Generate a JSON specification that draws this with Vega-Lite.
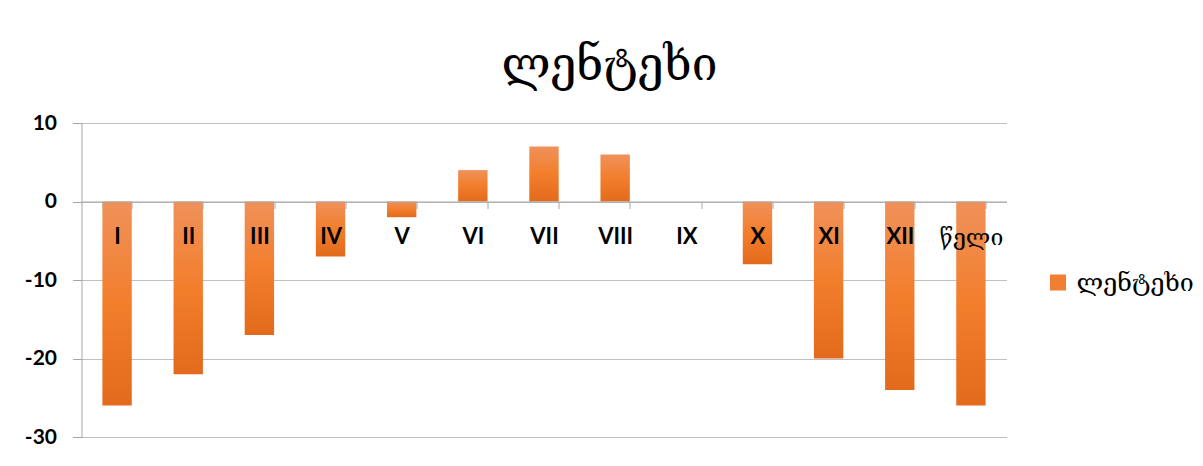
{
  "$schema": "https://vega.github.io/schema/vega-lite/v6.json",
  "width": 925,
  "height": 314,
  "autosize": {"type": "none"},
  "padding": {"left": 81.5, "top": 123, "right": 196.5, "bottom": 29},
  "background": "white",
  "title": {"text": "ლენტეხი", "fontSize": 46, "font": "DejaVu Serif", "fontWeight": "normal", "anchor": "middle", "frame": "bounds", "offset": 22, "dx": 0, "color": "#000000"},
  "data": {"values": [
    {"m": "I", "v": -26, "s": "ლენტეხი"},
    {"m": "II", "v": -22, "s": "ლენტეხი"},
    {"m": "III", "v": -17, "s": "ლენტეხი"},
    {"m": "IV", "v": -7, "s": "ლენტეხი"},
    {"m": "V", "v": -2, "s": "ლენტეხი"},
    {"m": "VI", "v": 4, "s": "ლენტეხი"},
    {"m": "VII", "v": 7, "s": "ლენტეხი"},
    {"m": "VIII", "v": 6, "s": "ლენტეხი"},
    {"m": "IX", "v": 0, "s": "ლენტეხი"},
    {"m": "X", "v": -8, "s": "ლენტეხი"},
    {"m": "XI", "v": -20, "s": "ლენტეხი"},
    {"m": "XII", "v": -24, "s": "ლენტეხი"},
    {"m": "წელი", "v": -26, "s": "ლენტეხი"}
  ]},
  "encoding": {
    "x": {"field": "m", "type": "nominal", "sort": null,
      "scale": {"paddingInner": 0.587, "paddingOuter": 0.2935},
      "axis": {"orient": "bottom", "offset": -235.5, "title": null, "labelAngle": 0, "labelFont": "Lato, DejaVu Serif",
        "labelFontSize": {"condition": {"test": "datum.label == 'წელი'", "value": 23}, "value": 22},
        "labelFontWeight": {"condition": {"test": "datum.label == 'წელი'", "value": "normal"}, "value": "bold"},
        "labelColor": "#000000", "labelPadding": 18, "labelBaseline": "top", "tickBand": "extent", "tickSize": 7, "tickColor": "#a6a6a6", "domainColor": "#a6a6a6", "grid": false, "zindex": 1}}
  },
  "layer": [
    {
      "mark": {"type": "bar", "fill": {"gradient": "linear", "x1": 0, "y1": 0, "x2": 0, "y2": 1, "stops": [{"offset": 0, "color": "#f0915a"}, {"offset": 0.5, "color": "#f27e2c"}, {"offset": 1, "color": "#e36a1c"}]}},
      "encoding": {
        "y": {"field": "v", "type": "quantitative",
          "scale": {"domain": [-30, 10], "nice": false},
          "axis": {"title": null, "values": [-30, -20, -10, 0, 10], "labelExpr": "'' + datum.value", "labelFont": "Lato", "labelFontSize": 21, "labelFontWeight": "bold", "labelColor": "#000000", "labelPadding": 16, "tickSize": 9, "tickColor": "#a6a6a6", "domainColor": "#a6a6a6", "gridColor": "#bfbfbf", "grid": true}}
      }
    },
    {
      "mark": {"type": "bar", "strokeWidth": 0},
      "encoding": {
        "y": {"datum": 0},
        "y2": {"datum": 0},
        "color": {"field": "s", "type": "nominal",
          "scale": {"range": ["#f07f33"]},
          "legend": {"orient": "none", "legendX": 964, "legendY": 147, "title": null, "symbolType": "square", "symbolSize": 256, "symbolStrokeWidth": 0, "labelFont": "DejaVu Serif", "labelFontSize": 25, "labelColor": "#000000", "labelOffset": 6}}
      }
    }
  ],
  "config": {"view": {"stroke": null}}
}
